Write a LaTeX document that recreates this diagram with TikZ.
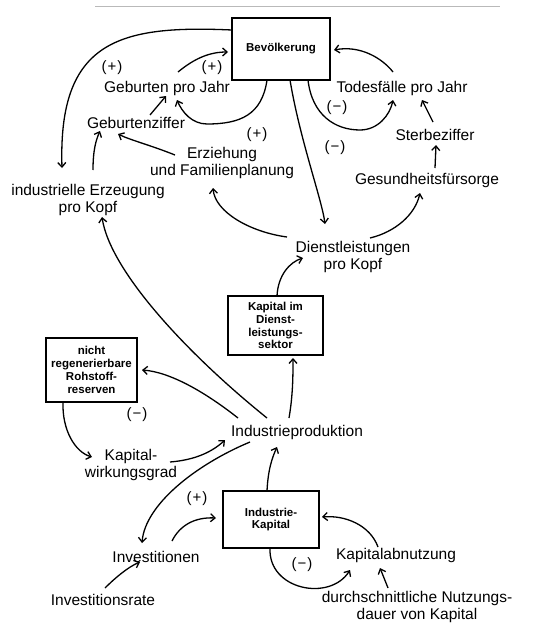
\documentclass[tikz,border=0pt]{standalone}
\usepackage{fontspec}
\setmainfont{Liberation Sans}
\usetikzlibrary{arrows.meta,calc}
\begin{document}
\begin{tikzpicture}[x=1pt,y=-1pt,
  txt/.style={inner sep=1pt,align=center,font=\fontsize{15.5}{17}\selectfont},
  lbl/.style={inner sep=0pt,font=\fontsize{15}{16}\selectfont},
  boxnode/.style={draw,line width=1.6pt,inner sep=0pt,align=center,font=\fontsize{11.5}{12.8}\selectfont\bfseries},
  conn/.style={line width=1.3pt,-{Straight Barb[length=4.5pt,width=8pt]}}]
\useasboundingbox (0,0) rectangle (536,626);
\draw[gray!55,line width=1pt] (95,7) -- (500,7);
% boxes
\node[boxnode,minimum width=98pt,minimum height=62pt] (bev) at (281,49) {Bevölkerung};
\node[boxnode,minimum width=95pt,minimum height=59pt] (kds) at (275.5,325.5) {Kapital im\\Dienst-\\leistungs-\\sektor};
\node[boxnode,minimum width=91pt,minimum height=64pt] (roh) at (91.5,370) {nicht\\regenerierbare\\Rohstoff-\\reserven};
\node[boxnode,minimum width=96pt,minimum height=57pt] (ik) at (271,519.5) {Industrie-\\Kapital};
% text nodes
\node[txt] (geb) at (167,88) {Geburten pro Jahr};
\node[txt] (tod) at (402,88) {Todesfälle pro Jahr};
\node[txt] (gz) at (136,123) {Geburtenziffer};
\node[txt] (sz) at (435,135) {Sterbeziffer};
\node[txt] (erz) at (222,163) {Erziehung\\und Familienplanung};
\node[txt] (ges) at (427,180) {Gesundheitsfürsorge};
\node[txt] (ind) at (88,200) {industrielle Erzeugung\\pro Kopf};
\node[txt] (dl) at (353,257) {Dienstleistungen\\pro Kopf};
\node[txt] (ip) at (297,432) {Industrieproduktion};
\node[txt] (kw) at (131,465) {Kapital-\\wirkungsgrad};
\node[txt] (inv) at (156,557) {Investitionen};
\node[txt] (ka) at (396,555) {Kapitalabnutzung};
\node[txt] (ir) at (103,600) {Investitionsrate};
\node[txt] (dur) at (417,607) {durchschnittliche Nutzungs-\\dauer von Kapital};
% labels
\node[lbl] (l1) at (112,68) {(\kern1pt+\kern1pt)};
\node[lbl] (l2) at (212,68) {(\kern1pt+\kern1pt)};
\node[lbl] (l3) at (257,135) {(\kern1pt+\kern1pt)};
\node[lbl] (l4) at (337,108) {(\kern1pt−\kern1pt)};
\node[lbl] (l5) at (335,148) {(\kern1pt−\kern1pt)};
\node[lbl] (l6) at (137,415) {(\kern1pt−\kern1pt)};
\node[lbl] (l7) at (197,499) {(\kern1pt+\kern1pt)};
\node[lbl] (l8) at (302,565) {(\kern1pt−\kern1pt)};
% connectors
\draw[conn] ($(bev)+(-49,-19)$) .. controls (120,25) and (58,40) .. ($(ind)+(-26,-32)$);
\draw[conn] ($(geb)+(11,-16)$) .. controls (195,58) and (210,52) .. ($(bev)+(-53,3)$);
\draw[conn] ($(bev)+(-14,31)$) .. controls (262,115) and (240,124) .. (207,124) .. controls (192,124) and (182,112) .. ($(geb)+(10,12)$);
\draw[conn] ($(gz)+(14,-8)$) -- ($(geb)+(-1,8)$);
\draw[conn] ($(ind)+(5,-30)$) .. controls (93,150) and (96,140) .. ($(gz)+(-36,8)$);
\draw[conn] ($(erz)+(-47,-8)$) .. controls (150,145) and (130,140) .. ($(gz)+(-18,11)$);
\draw[conn] ($(bev)+(27,31)$) .. controls (312,115) and (335,130) .. (360,130) .. controls (378,130) and (390,115) .. ($(tod)+(-9,12)$);
\draw[conn] ($(tod)+(-9,-16)$) .. controls (382,58) and (360,45) .. ($(bev)+(53,1)$);
\draw[conn] ($(sz)+(-2,-13)$) -- ($(tod)+(20,12)$);
\draw[conn] ($(ges)+(8,-12)$) -- ($(sz)+(1,10)$);
\draw[conn] ($(bev)+(9,31)$) .. controls (300,140) and (322,200) .. ($(dl)+(-28,-33)$);
\draw[conn] ($(dl)+(-66,-20)$) .. controls (250,232) and (215,212) .. ($(erz)+(-9,25)$);
\draw[conn] ($(dl)+(17,-19)$) .. controls (395,232) and (415,215) .. ($(ges)+(-7,13)$);
\draw[conn] ($(kds)+(1.5,-29.5)$) .. controls (278,275) and (290,262) .. ($(dl)+(-50,1)$);
\draw[conn] ($(ip)+(-8,-14)$) .. controls (293,395) and (293,375) .. ($(kds)+(17.5,32.5)$);
\draw[conn] ($(ip)+(-30,-14)$) .. controls (185,352) and (110,270) .. ($(ind)+(14,17)$);
\draw[conn] ($(ip)+(-59,-14)$) .. controls (205,392) and (170,372) .. ($(roh)+(50.5,0)$);
\draw[conn] ($(roh)+(-28.5,32)$) .. controls (62,430) and (75,452) .. ($(kw)+(-39,-8)$);
\draw[conn] ($(kw)+(39,-3)$) .. controls (195,460) and (212,452) .. ($(ip)+(-72,8)$);
\draw[conn] ($(ip)+(-47,10)$) .. controls (195,465) and (145,505) .. ($(inv)+(-14,-14)$);
\draw[conn] ($(inv)+(16,-16)$) .. controls (180,525) and (195,517) .. ($(ik)+(-55,-1.5)$);
\draw[conn] ($(ik)+(-4,-28.5)$) .. controls (268,470) and (272,458) .. ($(ip)+(-20,15)$);
\draw[conn] ($(ik)+(-1,28.5)$) .. controls (268,590) and (330,602) .. ($(ka)+(-46,15)$);
\draw[conn] ($(ka)+(-18,-8)$) .. controls (370,525) and (345,515) .. ($(ik)+(51,-2.5)$);
\draw[conn] ($(dur)+(-29,-19)$) -- ($(ka)+(-16,13)$);
\draw[conn] ($(ir)+(2,-12)$) .. controls (115,578) and (128,567) .. ($(inv)+(-16,5)$);
\end{tikzpicture}
\end{document}
